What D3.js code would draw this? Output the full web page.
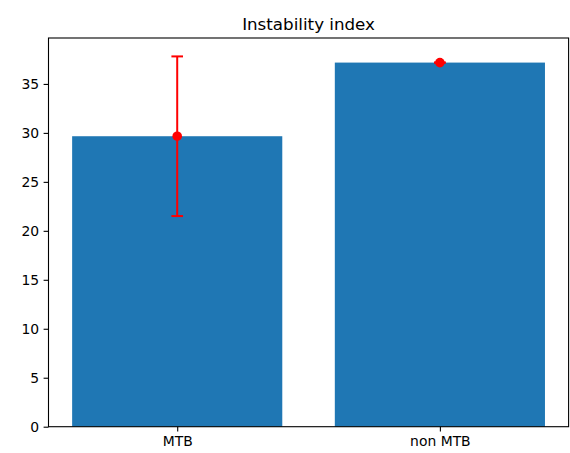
<!DOCTYPE html>
<html>
<head>
<meta charset="utf-8">
<script src="https://cdn.jsdelivr.net/npm/d3@7"></script>
<style>
  body { margin: 0; background: #fff; }
  text { font-family: "DejaVu Sans", sans-serif; fill: #000; }
</style>
</head>
<body>
<svg id="chart" width="570" height="453"></svg>
<script>
const categories = ["MTB", "non MTB"];
const means = [29.66, 37.18];
const errors = [8.15, 0];
const yTicks = [0, 5, 10, 15, 20, 25, 30, 35];
const title = "Instability index";

(function () {
const svg = d3.select("#chart");
const mLeft = 48.5, mRight = 568.6, mTop = 38, mBottom = 426.7;

const x = d3.scaleLinear().domain([-0.49, categories.length - 1 + 0.49]).range([mLeft, mRight]);
const y = d3.scaleLinear().domain([0, 39.69]).range([mBottom, mTop]);
const barW = x(0.8) - x(0);

// bars
svg.append("g").selectAll("rect").data(categories).join("rect")
  .attr("x", (d, i) => x(i) - barW / 2)
  .attr("y", (d, i) => y(means[i]))
  .attr("width", barW)
  .attr("height", (d, i) => y(0) - y(means[i]))
  .attr("fill", "#1f77b4");

// error bars
const eg = svg.append("g").attr("stroke", "#ff0000").attr("stroke-width", 2);
categories.forEach((c, i) => {
  const cx = x(i);
  eg.append("line").attr("x1", cx).attr("x2", cx)
    .attr("y1", y(means[i] - errors[i])).attr("y2", y(means[i] + errors[i]));
  [means[i] - errors[i], means[i] + errors[i]].forEach(v => {
    eg.append("line").attr("x1", cx - 5.8).attr("x2", cx + 5.8)
      .attr("y1", y(v)).attr("y2", y(v));
  });
});
svg.append("g").selectAll("circle").data(categories).join("circle")
  .attr("cx", (d, i) => x(i))
  .attr("cy", (d, i) => y(means[i]))
  .attr("r", 4.8)
  .attr("fill", "#ff0000");

// axes
const yAxis = d3.axisLeft(y).tickValues(yTicks).tickFormat(d3.format("d"))
  .tickSize(4.9).tickPadding(4.4);
const gy = svg.append("g").attr("transform", `translate(${mLeft},0)`).call(yAxis);
gy.select(".domain").remove();
gy.selectAll("text").style("font-size", "13.9px").style("font-family", "DejaVu Sans");
gy.selectAll("line").attr("stroke", "#000").attr("stroke-width", 1.1);

const xAxis = d3.axisBottom(x).tickValues(categories.map((c, i) => i))
  .tickFormat(i => categories[i]).tickSize(4.9).tickPadding(4.4);
const gx = svg.append("g").attr("transform", `translate(0,${mBottom})`).call(xAxis);
gx.select(".domain").remove();
gx.selectAll("text").style("font-size", "13.9px").style("font-family", "DejaVu Sans");
gx.selectAll("line").attr("stroke", "#000").attr("stroke-width", 1.1);

// spines
svg.append("rect").attr("x", mLeft).attr("y", mTop)
  .attr("width", mRight - mLeft).attr("height", mBottom - mTop)
  .attr("fill", "none").attr("stroke", "#000").attr("stroke-width", 1.1);

svg.append("text").attr("x", (mLeft + mRight) / 2).attr("y", mTop - 8.5)
  .attr("text-anchor", "middle").style("font-size", "16.7px").text(title);
})();
</script>
</body>
</html>
